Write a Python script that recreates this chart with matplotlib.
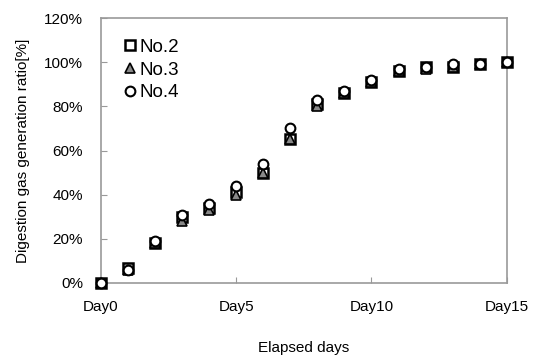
import matplotlib
matplotlib.use("Agg")
import matplotlib.pyplot as plt
from matplotlib.ticker import FuncFormatter

plt.rcParams['font.family'] = ['Liberation Sans', 'DejaVu Sans']

days = list(range(16))
no2 = [0, 7, 18, 30, 34, 41, 50, 65, 81, 86, 91, 96, 98, 98, 99, 100]
no3 = [0, 6, 18, 28, 33, 40, 50, 65, 80, 86, 91, 96, 97, 98, 99, 100]
no4 = [0, 6, 19, 31, 36, 44, 54, 70, 83, 87, 92, 97, 98, 99, 99, 100]
xtick_labels = ['Day0', 'Day5', 'Day10', 'Day15']

fig = plt.figure(figsize=(5.36, 3.59), dpi=100)
ax = fig.add_axes([0.1884, 0.2117, 0.757, 0.738])

ax.plot(days, no2, 's', ms=7, mfc='white', mec='black', mew=1.8, label='No.2', zorder=3, clip_on=False)
ax.plot(days, no3, '^', ms=7, mfc='#888888', mec='black', mew=1.2, label='No.3', zorder=4, clip_on=False)
ax.plot(days, no4, 'o', ms=7, mfc='white', mec='black', mew=1.5, label='No.4', zorder=5, clip_on=False)

ax.set_xlim(0, 15)
ax.set_ylim(0, 120)
ax.set_xticks([0, 5, 10, 15])
ax.set_xticklabels(xtick_labels)
ax.set_yticks(range(0, 121, 20))
ax.yaxis.set_major_formatter(FuncFormatter(lambda v, p: f'{int(v)}%'))
ax.tick_params(axis='x', direction='in', length=4, color='#999999', pad=12, labelsize=11)
ax.tick_params(axis='y', direction='in', length=4, color='#999999', pad=13, labelsize=11)
for s in ax.spines.values():
    s.set_color('#999999')
    s.set_linewidth(1.2)

ax.set_xlabel('Elapsed days', fontsize=11, labelpad=20)
ax.set_ylabel('Digestion gas generation ratio[%]', fontsize=11, labelpad=10)

ax.legend(loc='upper left', bbox_to_anchor=(0.035, 0.95), frameon=False, fontsize=13.5,
          handletextpad=0.1, handlelength=0.8, labelspacing=0.3, borderaxespad=0,
          markerscale=1.0)

fig.savefig('out.png', dpi=100)
